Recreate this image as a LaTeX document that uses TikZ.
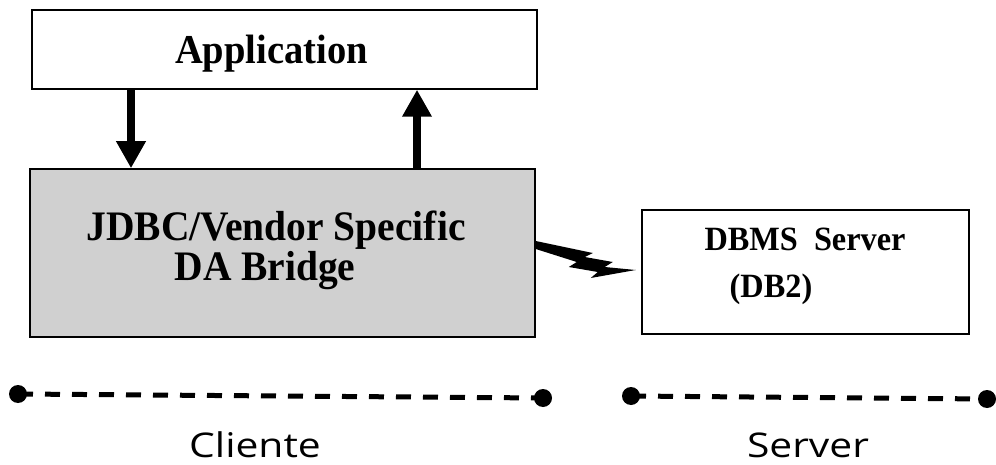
\documentclass[tikz,border=0pt]{standalone}
\usepackage{fontspec}
\usepackage{graphicx}
\setmainfont{Liberation Serif}
\newfontfamily\handfont{Open Sans}
\usetikzlibrary{arrows.meta,calc}

\definecolor{bridgegray}{RGB}{208,208,208}

\tikzset{
  box/.style={draw=black, line width=1.5pt, rectangle, inner sep=0pt},
  boxtext/.style={anchor=base, inner sep=0pt, align=center},
  flow/.style={line width=8pt, -{Triangle[width=28pt,length=27pt]}},
  dot/.style={circle, fill=black, inner sep=0pt, minimum size=18pt},
  tier/.style={line width=5pt, dash pattern=on 15pt off 12pt},
  tierlabel/.style={anchor=base, inner sep=0pt},
  bolt/.style={fill=black}
}
% condensed bold serif text and widened hand-style labels
\newcommand{\boldtxt}[3]{\scalebox{#2}[1]{\bfseries\fontsize{#1}{#1}\selectfont #3}}
\newcommand{\handtxt}[1]{\scalebox{1.2}[1]{\handfont\fontsize{34}{40}\selectfont #1}}

\begin{document}
\begin{tikzpicture}[x=1pt, y=-1pt]
  \useasboundingbox (0,0) rectangle (996,465);

  % boxes
  \node[box, minimum width=505pt, minimum height=79pt] (app) at (284.5,49.5) {};
  \node[box, fill=bridgegray, minimum width=505pt, minimum height=168pt] (bridge) at (282.5,253) {};
  \node[box, minimum width=327pt, minimum height=124pt] (dbms) at (805.5,272) {};

  % box texts (the two-line label sits on the baseline of its last line)
  \node[boxtext] (apptxt) at (271.5,64) {\boldtxt{41}{0.94}{Application}};
  \node[boxtext, font=\fontsize{42}{37}\selectfont] (brtxt) at (276,280)
    {\boldtxt{42}{0.94}{JDBC/Vendor Specific}\\\boldtxt{42}{0.94}{DA Bridge}\hspace*{22pt}};
  \node[boxtext] (dbtxt1) at (805,251) {\boldtxt{34}{0.95}{DBMS\ \ Server}};
  \node[boxtext] (dbtxt2) at (771,297) {\boldtxt{34}{0.95}{(DB2)}};

  % calls between application and bridge
  \draw[flow] (app.south -| 131,0) -- (bridge.north -| 131,0);
  \draw[flow] (bridge.north -| 417,0) -- (app.south -| 417,0);

  % network link to the server
  \fill[bolt] ([yshift=12pt]bridge.east) -- ++(57,12) -- ++(-8,4) -- ++(28,5)
     -- ++(-8,5) -- ++(31,3) -- ++(-45,8) -- ++(7,-6) -- ++(-29,-5)
     -- ++(8,-5) -- ++(-41,-13) -- cycle;

  % tiers
  \node[dot] (c1) at (18,394) {};
  \node[dot] (c2) at (543,398) {};
  \node[dot] (s1) at (631,396) {};
  \node[dot] (s2) at (987,399) {};
  \draw[tier] (c1.center) -- (c2.center);
  \draw[tier] (s1.center) -- (s2.center);

  \node[tierlabel] (cliente) at (255,457) {\handtxt{Cliente}};
  \node[tierlabel] (server) at (808,457) {\handtxt{Server}};
\end{tikzpicture}
\end{document}
